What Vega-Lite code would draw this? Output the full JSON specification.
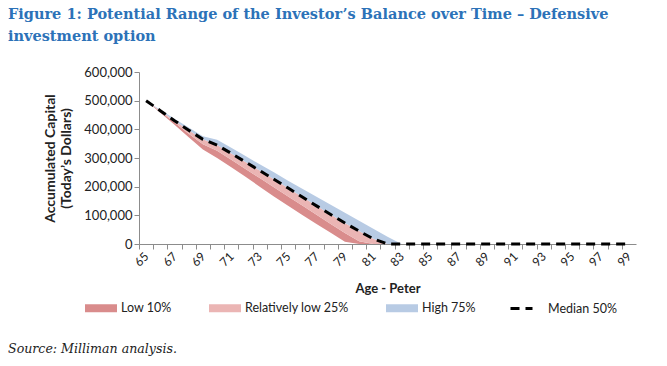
{
  "$schema": "https://vega.github.io/schema/vega-lite/v6.json",
  "background": "white",
  "padding": {"left": 8, "top": 6, "right": 10, "bottom": 6},
  "title": {
    "text": ["Figure 1: Potential Range of the Investor’s Balance over Time – Defensive", "investment option"],
    "anchor": "start", "frame": "group", "dx": -131,
    "font": "DejaVu Serif", "fontSize": 14.5, "fontWeight": "bold", "color": "#2C72B8",
    "lineHeight": 22, "offset": 22
  },
  "vconcat": [
    {
      "width": 497,
      "height": 172,
      "title": {
        "text": "Source: Milliman analysis.", "orient": "bottom", "anchor": "start", "frame": "group",
        "dx": -131, "font": "DejaVu Serif", "fontStyle": "italic", "fontWeight": "normal",
        "fontSize": 12.6, "color": "#222222", "offset": 48
      },
      "data": {
        "values": [
          {"age": 65, "p10": 500000, "p25": 500000, "p50": 500000, "p75": 500000},
          {"age": 66, "p10": 458000, "p25": 462000, "p50": 465000, "p75": 468000},
          {"age": 67, "p10": 416000, "p25": 424000, "p50": 430000, "p75": 437000},
          {"age": 68, "p10": 372000, "p25": 385000, "p50": 397000, "p75": 406000},
          {"age": 69, "p10": 330000, "p25": 348000, "p50": 365000, "p75": 376000},
          {"age": 70, "p10": 300000, "p25": 325000, "p50": 345000, "p75": 364000},
          {"age": 71, "p10": 268000, "p25": 294000, "p50": 316000, "p75": 336000},
          {"age": 72, "p10": 235000, "p25": 262000, "p50": 286000, "p75": 307000},
          {"age": 73, "p10": 200000, "p25": 230000, "p50": 256000, "p75": 278000},
          {"age": 74, "p10": 166000, "p25": 198000, "p50": 226000, "p75": 250000},
          {"age": 75, "p10": 133000, "p25": 166000, "p50": 195000, "p75": 221000},
          {"age": 76, "p10": 101000, "p25": 134000, "p50": 164000, "p75": 193000},
          {"age": 77, "p10": 70000, "p25": 102000, "p50": 133000, "p75": 165000},
          {"age": 78, "p10": 39000, "p25": 70000, "p50": 103000, "p75": 137000},
          {"age": 79, "p10": 8000, "p25": 38000, "p50": 73000, "p75": 109000},
          {"age": 80, "p10": 0, "p25": 10000, "p50": 45000, "p75": 81000},
          {"age": 81, "p10": 0, "p25": 0, "p50": 18000, "p75": 53000},
          {"age": 82, "p10": 0, "p25": 0, "p50": 0, "p75": 25000},
          {"age": 83, "p10": 0, "p25": 0, "p50": 0, "p75": 0},
          {"age": 84, "p10": 0, "p25": 0, "p50": 0, "p75": 0},
          {"age": 85, "p10": 0, "p25": 0, "p50": 0, "p75": 0},
          {"age": 86, "p10": 0, "p25": 0, "p50": 0, "p75": 0},
          {"age": 87, "p10": 0, "p25": 0, "p50": 0, "p75": 0},
          {"age": 88, "p10": 0, "p25": 0, "p50": 0, "p75": 0},
          {"age": 89, "p10": 0, "p25": 0, "p50": 0, "p75": 0},
          {"age": 90, "p10": 0, "p25": 0, "p50": 0, "p75": 0},
          {"age": 91, "p10": 0, "p25": 0, "p50": 0, "p75": 0},
          {"age": 92, "p10": 0, "p25": 0, "p50": 0, "p75": 0},
          {"age": 93, "p10": 0, "p25": 0, "p50": 0, "p75": 0},
          {"age": 94, "p10": 0, "p25": 0, "p50": 0, "p75": 0},
          {"age": 95, "p10": 0, "p25": 0, "p50": 0, "p75": 0},
          {"age": 96, "p10": 0, "p25": 0, "p50": 0, "p75": 0},
          {"age": 97, "p10": 0, "p25": 0, "p50": 0, "p75": 0},
          {"age": 98, "p10": 0, "p25": 0, "p50": 0, "p75": 0},
          {"age": 99, "p10": 0, "p25": 0, "p50": 0, "p75": 0}
        ]
      },
      "encoding": {
        "x": {
          "field": "age", "type": "quantitative",
          "scale": {"domain": [64.5, 99.5], "nice": false, "zero": false},
          "axis": {
            "title": "Age - Peter",
            "values": [65,66,67,68,69,70,71,72,73,74,75,76,77,78,79,80,81,82,83,84,85,86,87,88,89,90,91,92,93,94,95,96,97,98,99,100],
            "labelExpr": "datum.value % 2 == 1 && datum.value < 100 ? datum.label : ''",
            "tickOffset": -7.1, "labelOffset": 7.1,
            "labelAngle": -45, "labelAlign": "right", "labelBaseline": "middle",
            "labelPadding": 5, "labelOverlap": false, "labelBound": false, "labelFlush": false,
            "titlePadding": 14
          }
        }
      },
      "layer": [
        {
          "mark": {"type": "area", "opacity": 1},
          "encoding": {
            "y": {
              "field": "p10", "type": "quantitative",
              "scale": {"domain": [0, 600000], "nice": false},
              "axis": {
                "title": ["Accumulated Capital", "(Today’s Dollars)"],
                "values": [0, 100000, 200000, 300000, 400000, 500000, 600000],
                "format": ",.0f", "titlePadding": 10, "labelPadding": 2,
                "labelOverlap": false, "labelFlush": false,
                "labelFontSize": 13, "titleFontSize": 14, "titleLineHeight": 16
              }
            },
            "y2": {"field": "p25"},
            "color": {
              "datum": "Low 10%", "type": "nominal",
              "scale": {
                "domain": ["Low 10%", "Relatively low 25%", "High 75%"],
                "range": ["#D98C8C", "#EBB5B4", "#B8CBE4"]
              },
              "legend": {
                "title": null, "orient": "none", "legendX": -54, "legendY": 220,
                "direction": "horizontal", "columns": 3, "columnPadding": 37,
                "symbolType": "M-1,-0.25H1V0.25H-1Z", "symbolSize": 1024,
                "symbolStrokeWidth": 0, "symbolOpacity": 1, "labelOffset": 4
              }
            }
          }
        },
        {
          "mark": {"type": "area", "opacity": 1},
          "encoding": {
            "y": {
              "field": "p25", "type": "quantitative",
              "axis": {
                "title": ["Accumulated Capital", "(Today’s Dollars)"],
                "values": [0, 100000, 200000, 300000, 400000, 500000, 600000],
                "format": ",.0f", "titlePadding": 10, "labelPadding": 2,
                "labelOverlap": false, "labelFlush": false,
                "labelFontSize": 13, "titleFontSize": 14, "titleLineHeight": 16
              }
            },
            "y2": {"field": "p50"},
            "color": {"datum": "Relatively low 25%", "type": "nominal"}
          }
        },
        {
          "mark": {"type": "area", "opacity": 1},
          "encoding": {
            "y": {
              "field": "p50", "type": "quantitative",
              "axis": {
                "title": ["Accumulated Capital", "(Today’s Dollars)"],
                "values": [0, 100000, 200000, 300000, 400000, 500000, 600000],
                "format": ",.0f", "titlePadding": 10, "labelPadding": 2,
                "labelOverlap": false, "labelFlush": false,
                "labelFontSize": 13, "titleFontSize": 14, "titleLineHeight": 16
              }
            },
            "y2": {"field": "p75"},
            "color": {"datum": "High 75%", "type": "nominal"}
          }
        },
        {
          "mark": {"type": "line", "strokeWidth": 3, "strokeCap": "butt", "color": "#000000"},
          "encoding": {
            "y": {
              "field": "p50", "type": "quantitative",
              "axis": {
                "title": ["Accumulated Capital", "(Today’s Dollars)"],
                "values": [0, 100000, 200000, 300000, 400000, 500000, 600000],
                "format": ",.0f", "titlePadding": 10, "labelPadding": 2,
                "labelOverlap": false, "labelFlush": false,
                "labelFontSize": 13, "titleFontSize": 14, "titleLineHeight": 16
              }
            },
            "strokeDash": {
              "datum": "Median 50%", "type": "nominal",
              "scale": {"domain": ["Median 50%"], "range": [[9, 6]]},
              "legend": {
                "title": null, "orient": "none", "legendX": 370, "legendY": 224,
                "symbolType": "stroke", "symbolSize": 484, "symbolStrokeWidth": 3,
                "symbolStrokeColor": "#000000", "labelOffset": 14
              }
            }
          }
        }
      ]
    }
  ],
  "config": {
    "view": {"stroke": null},
    "axis": {
      "grid": false,
      "domainColor": "#8C8C8C", "tickColor": "#8C8C8C", "tickSize": 5,
      "labelFont": "Lato", "labelFontSize": 12, "labelColor": "#222222",
      "titleFont": "Lato", "titleFontSize": 13, "titleFontWeight": "bold", "titleColor": "#222222"
    },
    "legend": {"labelFont": "Lato", "labelFontSize": 12.5, "labelColor": "#222222"}
  }
}
